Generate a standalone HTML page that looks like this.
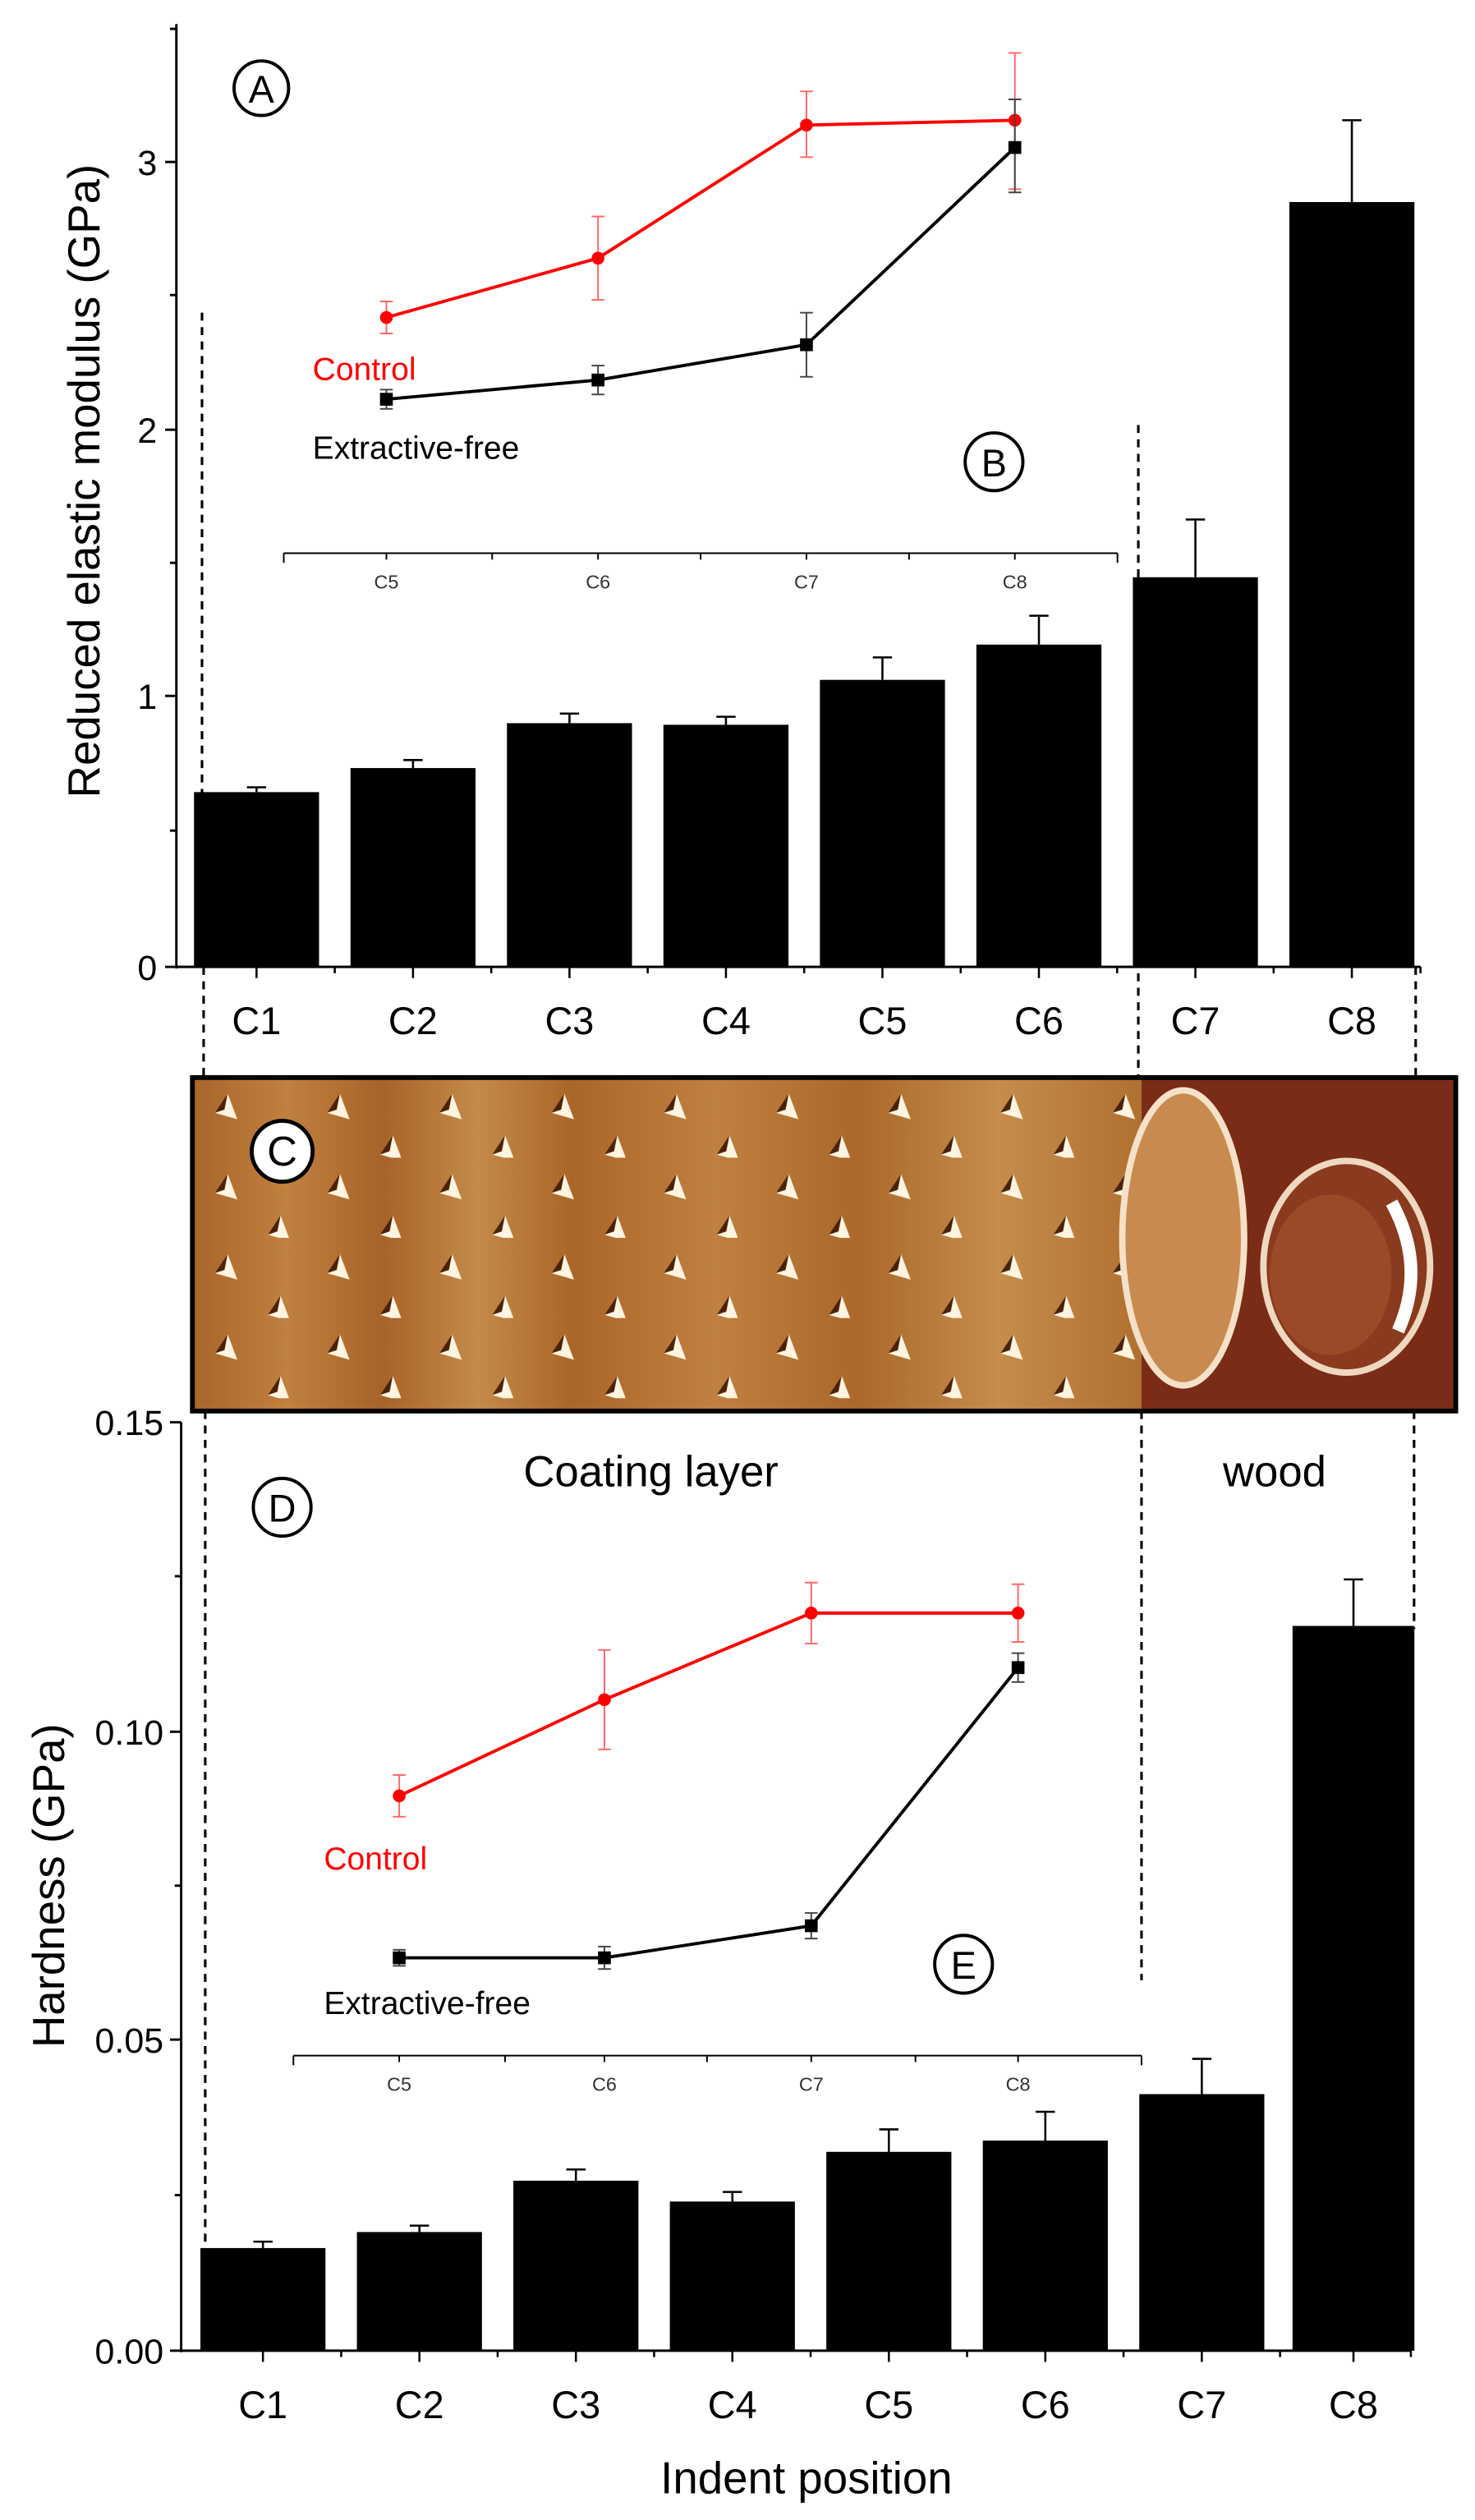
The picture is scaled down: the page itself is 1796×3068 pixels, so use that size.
<!DOCTYPE html>
<html><head><meta charset="utf-8"><style>
html,body{margin:0;padding:0;background:#fff;}
svg{display:block;}
text{font-family:"Liberation Sans",sans-serif;}
</style></head><body>
<svg width="1796" height="3068" viewBox="0 0 920 1571.6" xmlns="http://www.w3.org/2000/svg">
<defs>
<pattern id="ind" x="120" y="672" width="70" height="50" patternUnits="userSpaceOnUse">
 <path d="M22 10 L28 26 L14 22 Z" fill="#fff4e0"/>
 <path d="M22 10 L14 22 L20 20 Z" fill="#4a2208"/>
 <path d="M55 36 L61 52 L47 48 Z" fill="#fff4e0"/>
 <path d="M55 36 L47 48 L53 46 Z" fill="#4a2208"/>
</pattern>
<linearGradient id="brn" x1="0" x2="1" y1="0" y2="0">
 <stop offset="0" stop-color="#a9652a"/><stop offset="0.1" stop-color="#c0803e"/>
 <stop offset="0.2" stop-color="#a86328"/><stop offset="0.3" stop-color="#c48a48"/>
 <stop offset="0.4" stop-color="#aa6628"/><stop offset="0.55" stop-color="#c08040"/>
 <stop offset="0.7" stop-color="#ab6829"/><stop offset="0.85" stop-color="#c58c4c"/>
 <stop offset="1" stop-color="#b07030"/>
</linearGradient>
</defs>

<!-- ===== TOP CHART ===== -->
<g stroke="#000" stroke-width="1.5" fill="none">
 <line x1="110" y1="15" x2="110" y2="604"/>
 <line x1="110" y1="603" x2="886" y2="603"/>
 <line x1="103" y1="101" x2="110" y2="101"/><line x1="103" y1="268" x2="110" y2="268"/>
 <line x1="103" y1="434" x2="110" y2="434"/><line x1="103" y1="603" x2="110" y2="603"/>
 <line x1="106" y1="18" x2="110" y2="18"/><line x1="106" y1="184" x2="110" y2="184"/>
 <line x1="106" y1="351" x2="110" y2="351"/><line x1="106" y1="518" x2="110" y2="518"/>
</g>
<g font-size="22" text-anchor="end" fill="#000">
 <text x="98" y="109">3</text><text x="98" y="276">2</text><text x="98" y="442">1</text><text x="98" y="611">0</text>
</g>
<text transform="translate(62,300) rotate(-90)" font-size="28" text-anchor="middle">Reduced elastic modulus (GPa)</text>
<g fill="#000">
 <rect x="121" y="494" width="78" height="109"/>
 <rect x="218.6" y="479" width="78" height="124"/>
 <rect x="316.2" y="451" width="78" height="152"/>
 <rect x="413.8" y="452" width="78" height="151"/>
 <rect x="511.4" y="424" width="78" height="179"/>
 <rect x="609" y="402" width="78" height="201"/>
 <rect x="706.6" y="360" width="78" height="243"/>
 <rect x="804.2" y="126" width="78" height="477"/>
</g>
<g stroke="#000" stroke-width="1.3">
 <line x1="160" y1="494" x2="160" y2="491"/><line x1="154" y1="491" x2="166" y2="491"/>
 <line x1="257.6" y1="479" x2="257.6" y2="474"/><line x1="251.6" y1="474" x2="263.6" y2="474"/>
 <line x1="355.2" y1="451" x2="355.2" y2="445"/><line x1="349.2" y1="445" x2="361.2" y2="445"/>
 <line x1="452.8" y1="452" x2="452.8" y2="447"/><line x1="446.8" y1="447" x2="458.8" y2="447"/>
 <line x1="550.4" y1="424" x2="550.4" y2="410"/><line x1="544.4" y1="410" x2="556.4" y2="410"/>
 <line x1="648" y1="402" x2="648" y2="384"/><line x1="642" y1="384" x2="654" y2="384"/>
 <line x1="745.6" y1="360" x2="745.6" y2="324"/><line x1="739.6" y1="324" x2="751.6" y2="324"/>
 <line x1="843.2" y1="126" x2="843.2" y2="75"/><line x1="837.2" y1="75" x2="849.2" y2="75"/>
</g>
<g stroke="#000" stroke-width="1.3">
 <line x1="160" y1="603" x2="160" y2="610"/><line x1="257.6" y1="603" x2="257.6" y2="610"/>
 <line x1="355.2" y1="603" x2="355.2" y2="610"/><line x1="452.8" y1="603" x2="452.8" y2="610"/>
 <line x1="550.4" y1="603" x2="550.4" y2="610"/><line x1="648" y1="603" x2="648" y2="610"/>
 <line x1="745.6" y1="603" x2="745.6" y2="610"/><line x1="843.2" y1="603" x2="843.2" y2="610"/>
 <line x1="208.8" y1="603" x2="208.8" y2="607"/><line x1="306.4" y1="603" x2="306.4" y2="607"/>
 <line x1="404" y1="603" x2="404" y2="607"/><line x1="501.6" y1="603" x2="501.6" y2="607"/>
 <line x1="599.2" y1="603" x2="599.2" y2="607"/><line x1="696.8" y1="603" x2="696.8" y2="607"/>
 <line x1="794.4" y1="603" x2="794.4" y2="607"/><line x1="886" y1="603" x2="886" y2="607"/>
</g>
<g font-size="24" text-anchor="middle">
 <text x="160" y="645">C1</text><text x="257.6" y="645">C2</text><text x="355.2" y="645">C3</text><text x="452.8" y="645">C4</text>
 <text x="550.4" y="645">C5</text><text x="648" y="645">C6</text><text x="745.6" y="645">C7</text><text x="843.2" y="645">C8</text>
</g>
<!-- inset B -->
<g stroke="#000" stroke-width="1">
 <line x1="177" y1="345" x2="697" y2="345"/>
 <line x1="177" y1="345" x2="177" y2="351"/><line x1="307" y1="345" x2="307" y2="349"/>
 <line x1="437" y1="345" x2="437" y2="349"/><line x1="567" y1="345" x2="567" y2="349"/>
 <line x1="697" y1="345" x2="697" y2="351"/>
 <line x1="241" y1="345" x2="241" y2="349"/><line x1="373" y1="345" x2="373" y2="349"/>
 <line x1="503" y1="345" x2="503" y2="349"/><line x1="633" y1="345" x2="633" y2="349"/>
</g>
<g font-size="12" text-anchor="middle" fill="#333">
 <text x="241" y="367">C5</text><text x="373" y="367">C6</text><text x="503" y="367">C7</text><text x="633" y="367">C8</text>
</g>
<g stroke="#f66" stroke-width="1">
 <line x1="241" y1="188" x2="241" y2="208"/><line x1="237" y1="188" x2="245" y2="188"/><line x1="237" y1="208" x2="245" y2="208"/>
 <line x1="373" y1="135" x2="373" y2="187"/><line x1="369" y1="135" x2="377" y2="135"/><line x1="369" y1="187" x2="377" y2="187"/>
 <line x1="503" y1="57" x2="503" y2="98"/><line x1="499" y1="57" x2="507" y2="57"/><line x1="499" y1="98" x2="507" y2="98"/>
 <line x1="633" y1="33" x2="633" y2="118"/><line x1="629" y1="33" x2="637" y2="33"/><line x1="629" y1="118" x2="637" y2="118"/>
</g>
<polyline points="241,198 373,161 503,78 633,75" fill="none" stroke="#f00" stroke-width="2"/>
<g fill="#f00"><circle cx="241" cy="198" r="4"/><circle cx="373" cy="161" r="4"/><circle cx="503" cy="78" r="4"/><circle cx="633" cy="75" r="4"/></g>
<g stroke="#444" stroke-width="1">
 <line x1="241" y1="243" x2="241" y2="255"/><line x1="237" y1="243" x2="245" y2="243"/><line x1="237" y1="255" x2="245" y2="255"/>
 <line x1="373" y1="228" x2="373" y2="246"/><line x1="369" y1="228" x2="377" y2="228"/><line x1="369" y1="246" x2="377" y2="246"/>
 <line x1="503" y1="195" x2="503" y2="235"/><line x1="499" y1="195" x2="507" y2="195"/><line x1="499" y1="235" x2="507" y2="235"/>
 <line x1="633" y1="62" x2="633" y2="120"/><line x1="629" y1="62" x2="637" y2="62"/><line x1="629" y1="120" x2="637" y2="120"/>
</g>
<polyline points="241,249 373,237 503,215 633,92" fill="none" stroke="#000" stroke-width="2"/>
<g fill="#000"><rect x="237" y="245" width="8" height="8"/><rect x="369" y="233" width="8" height="8"/><rect x="499" y="211" width="8" height="8"/><rect x="629" y="88" width="8" height="8"/></g>
<text x="195" y="237" font-size="20" fill="#f00">Control</text>
<text x="195" y="286" font-size="20" fill="#000">Extractive-free</text>
<circle cx="163" cy="55" r="17" fill="#fff" stroke="#000" stroke-width="2"/>
<text x="163" y="64" font-size="24" text-anchor="middle">A</text>
<circle cx="620" cy="288" r="18" fill="#fff" stroke="#000" stroke-width="2"/>
<text x="620" y="297" font-size="24" text-anchor="middle">B</text>

<!-- ===== IMAGE PANEL ===== -->
<rect x="120" y="672" width="592" height="208" fill="url(#brn)"/>
<rect x="120" y="672" width="592" height="208" fill="url(#ind)"/>
<rect x="712" y="672" width="196" height="208" fill="#7a2c16"/>
<ellipse cx="738" cy="772" rx="38" ry="92" fill="#c88a4e" stroke="#f5e0c8" stroke-width="4"/>
<ellipse cx="840" cy="790" rx="52" ry="66" fill="#8a3a1e" stroke="#f0d8c0" stroke-width="4"/>
<ellipse cx="830" cy="795" rx="38" ry="50" fill="#9a4a28"/>
<path d="M868 750 Q890 790 872 830" stroke="#fff" stroke-width="8" fill="none"/>
<rect x="120" y="672" width="788" height="208" fill="none" stroke="#000" stroke-width="3"/>
<circle cx="176" cy="718" r="19" fill="#fff" stroke="#000" stroke-width="2.5"/>
<text x="176" y="727" font-size="26" text-anchor="middle">C</text>

<!-- dashed lines -->
<g stroke="#000" stroke-width="1.6" stroke-dasharray="5,4" fill="none">
 <line x1="126" y1="195" x2="126" y2="603"/>
 <line x1="127" y1="603" x2="127" y2="672"/>
 <line x1="710" y1="265" x2="710" y2="672"/>
 <line x1="883" y1="603" x2="883" y2="672"/>
 <line x1="128" y1="880" x2="128" y2="1400"/>
 <line x1="712" y1="880" x2="712" y2="1235"/>
 <line x1="882" y1="880" x2="882" y2="1016"/>
</g>

<!-- ===== BOTTOM CHART ===== -->
<g stroke="#000" stroke-width="1.5" fill="none">
 <line x1="113" y1="887" x2="113" y2="1467"/>
 <line x1="113" y1="1466" x2="880" y2="1466"/>
 <line x1="106" y1="887" x2="113" y2="887"/><line x1="106" y1="1080" x2="113" y2="1080"/>
 <line x1="106" y1="1272" x2="113" y2="1272"/><line x1="106" y1="1466" x2="113" y2="1466"/>
 <line x1="109" y1="983" x2="113" y2="983"/><line x1="109" y1="1176" x2="113" y2="1176"/>
 <line x1="109" y1="1369" x2="113" y2="1369"/>
</g>
<g font-size="22" text-anchor="end">
 <text x="102" y="895">0.15</text><text x="102" y="1088">0.10</text><text x="102" y="1280">0.05</text><text x="102" y="1474">0.00</text>
</g>
<text transform="translate(40,1176) rotate(-90)" font-size="28" text-anchor="middle">Hardness (GPa)</text>
<g fill="#000">
 <rect x="125" y="1402" width="78" height="64"/>
 <rect x="222.6" y="1392" width="78" height="74"/>
 <rect x="320.2" y="1360" width="78" height="106"/>
 <rect x="417.8" y="1373" width="78" height="93"/>
 <rect x="515.4" y="1342" width="78" height="124"/>
 <rect x="613" y="1335" width="78" height="131"/>
 <rect x="710.6" y="1306" width="78" height="160"/>
 <rect x="806.2" y="1014" width="76" height="452"/>
</g>
<g stroke="#000" stroke-width="1.3">
 <line x1="164" y1="1402" x2="164" y2="1398"/><line x1="158" y1="1398" x2="170" y2="1398"/>
 <line x1="261.6" y1="1392" x2="261.6" y2="1388"/><line x1="255.6" y1="1388" x2="267.6" y2="1388"/>
 <line x1="359.2" y1="1360" x2="359.2" y2="1353"/><line x1="353.2" y1="1353" x2="365.2" y2="1353"/>
 <line x1="456.8" y1="1373" x2="456.8" y2="1367"/><line x1="450.8" y1="1367" x2="462.8" y2="1367"/>
 <line x1="554.4" y1="1342" x2="554.4" y2="1328"/><line x1="548.4" y1="1328" x2="560.4" y2="1328"/>
 <line x1="652" y1="1335" x2="652" y2="1317"/><line x1="646" y1="1317" x2="658" y2="1317"/>
 <line x1="749.6" y1="1306" x2="749.6" y2="1284"/><line x1="743.6" y1="1284" x2="755.6" y2="1284"/>
 <line x1="844.2" y1="1014" x2="844.2" y2="985"/><line x1="838.2" y1="985" x2="850.2" y2="985"/>
</g>
<g stroke="#000" stroke-width="1.3">
 <line x1="164" y1="1466" x2="164" y2="1473"/><line x1="261.6" y1="1466" x2="261.6" y2="1473"/>
 <line x1="359.2" y1="1466" x2="359.2" y2="1473"/><line x1="456.8" y1="1466" x2="456.8" y2="1473"/>
 <line x1="554.4" y1="1466" x2="554.4" y2="1473"/><line x1="652" y1="1466" x2="652" y2="1473"/>
 <line x1="749.6" y1="1466" x2="749.6" y2="1473"/><line x1="844.2" y1="1466" x2="844.2" y2="1473"/>
 <line x1="212.8" y1="1466" x2="212.8" y2="1470"/><line x1="310.4" y1="1466" x2="310.4" y2="1470"/>
 <line x1="408" y1="1466" x2="408" y2="1470"/><line x1="505.6" y1="1466" x2="505.6" y2="1470"/>
 <line x1="603.2" y1="1466" x2="603.2" y2="1470"/><line x1="700.8" y1="1466" x2="700.8" y2="1470"/>
 <line x1="798.4" y1="1466" x2="798.4" y2="1470"/><line x1="880" y1="1466" x2="880" y2="1470"/>
</g>
<g font-size="24" text-anchor="middle">
 <text x="164" y="1508">C1</text><text x="261.6" y="1508">C2</text><text x="359.2" y="1508">C3</text><text x="456.8" y="1508">C4</text>
 <text x="554.4" y="1508">C5</text><text x="652" y="1508">C6</text><text x="749.6" y="1508">C7</text><text x="844.2" y="1508">C8</text>
</g>
<text x="503" y="1555" font-size="28" text-anchor="middle">Indent position</text>
<text x="406" y="927" font-size="27" text-anchor="middle">Coating layer</text>
<text x="795" y="927" font-size="27" text-anchor="middle">wood</text>
<circle cx="176" cy="940" r="18" fill="#fff" stroke="#000" stroke-width="2"/>
<text x="176" y="949" font-size="24" text-anchor="middle">D</text>
<circle cx="601" cy="1225" r="18" fill="#fff" stroke="#000" stroke-width="2"/>
<text x="601" y="1234" font-size="24" text-anchor="middle">E</text>
<!-- inset E -->
<g stroke="#000" stroke-width="1">
 <line x1="183" y1="1282" x2="712" y2="1282"/>
 <line x1="183" y1="1282" x2="183" y2="1288"/><line x1="315" y1="1282" x2="315" y2="1286"/>
 <line x1="441" y1="1282" x2="441" y2="1286"/><line x1="571" y1="1282" x2="571" y2="1286"/>
 <line x1="712" y1="1282" x2="712" y2="1288"/>
 <line x1="249" y1="1282" x2="249" y2="1286"/><line x1="377" y1="1282" x2="377" y2="1286"/>
 <line x1="506" y1="1282" x2="506" y2="1286"/><line x1="635" y1="1282" x2="635" y2="1286"/>
</g>
<g font-size="12" text-anchor="middle" fill="#333">
 <text x="249" y="1304">C5</text><text x="377" y="1304">C6</text><text x="506" y="1304">C7</text><text x="635" y="1304">C8</text>
</g>
<g stroke="#f66" stroke-width="1">
 <line x1="249" y1="1107" x2="249" y2="1133"/><line x1="245" y1="1107" x2="253" y2="1107"/><line x1="245" y1="1133" x2="253" y2="1133"/>
 <line x1="377" y1="1029" x2="377" y2="1091"/><line x1="373" y1="1029" x2="381" y2="1029"/><line x1="373" y1="1091" x2="381" y2="1091"/>
 <line x1="506" y1="987" x2="506" y2="1025"/><line x1="502" y1="987" x2="510" y2="987"/><line x1="502" y1="1025" x2="510" y2="1025"/>
 <line x1="635" y1="988" x2="635" y2="1024"/><line x1="631" y1="988" x2="639" y2="988"/><line x1="631" y1="1024" x2="639" y2="1024"/>
</g>
<polyline points="249,1120 377,1060 506,1006 635,1006" fill="none" stroke="#f00" stroke-width="2"/>
<g fill="#f00"><circle cx="249" cy="1120" r="4"/><circle cx="377" cy="1060" r="4"/><circle cx="506" cy="1006" r="4"/><circle cx="635" cy="1006" r="4"/></g>
<g stroke="#444" stroke-width="1">
 <line x1="249" y1="1216" x2="249" y2="1226"/><line x1="245" y1="1216" x2="253" y2="1216"/><line x1="245" y1="1226" x2="253" y2="1226"/>
 <line x1="377" y1="1214" x2="377" y2="1228"/><line x1="373" y1="1214" x2="381" y2="1214"/><line x1="373" y1="1228" x2="381" y2="1228"/>
 <line x1="506" y1="1193" x2="506" y2="1209"/><line x1="502" y1="1193" x2="510" y2="1193"/><line x1="502" y1="1209" x2="510" y2="1209"/>
 <line x1="635" y1="1031" x2="635" y2="1049"/><line x1="631" y1="1031" x2="639" y2="1031"/><line x1="631" y1="1049" x2="639" y2="1049"/>
</g>
<polyline points="249,1221 377,1221 506,1201 635,1040" fill="none" stroke="#000" stroke-width="2"/>
<g fill="#000"><rect x="245" y="1217" width="8" height="8"/><rect x="373" y="1217" width="8" height="8"/><rect x="502" y="1197" width="8" height="8"/><rect x="631" y="1036" width="8" height="8"/></g>
<text x="202" y="1166" font-size="20" fill="#f00">Control</text>
<text x="202" y="1256" font-size="20" fill="#000">Extractive-free</text>
</svg>
</body></html>
